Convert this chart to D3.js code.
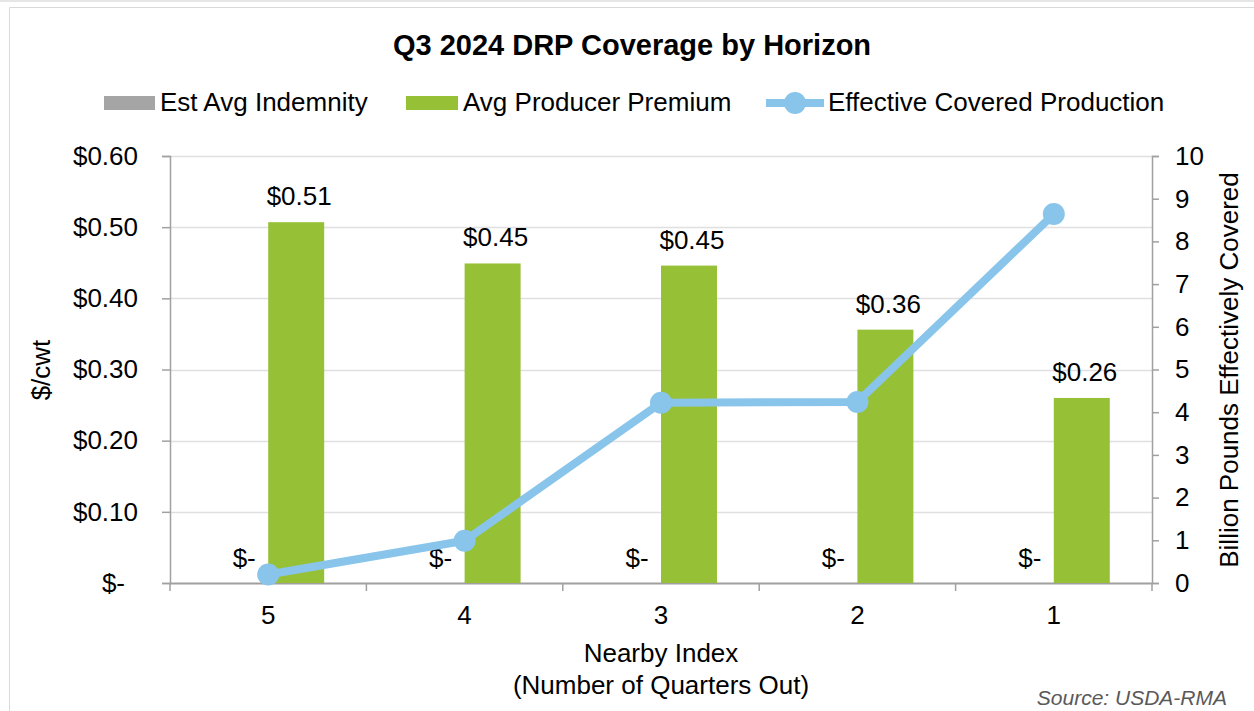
<!DOCTYPE html>
<html>
<head>
<meta charset="utf-8">
<script src="https://cdn.jsdelivr.net/npm/d3@7"></script>
<style>
  html, body { margin: 0; padding: 0; background: #fff; }
  svg text { font-family: "Liberation Sans", Arial, sans-serif; fill: #000; }
</style>
</head>
<body>
<svg id="chart" width="1254" height="711"></svg>
<script>
// ---- data ----
const categories = ["5", "4", "3", "2", "1"];
const seriesNames = ["Est Avg Indemnity", "Avg Producer Premium", "Effective Covered Production"];
const indemnity = [0, 0, 0, 0, 0];
const premium = [0.507, 0.449, 0.446, 0.356, 0.260];
const production = [0.20, 0.99, 4.22, 4.24, 8.64];
const leftTicks = [0, 0.1, 0.2, 0.3, 0.4, 0.5, 0.6];
const rightTicks = [0, 1, 2, 3, 4, 5, 6, 7, 8, 9, 10];
const titleText = "Q3 2024 DRP Coverage by Horizon";
const leftAxisTitle = "$/cwt";
const rightAxisTitle = "Billion Pounds Effectively Covered";
const xAxisTitle = ["Nearby Index", "(Number of Quarters Out)"];
const sourceText = "Source: USDA-RMA";

// ---- styles ----
const FS = 26;
const colGrey = "#a5a5a5";
const colGreen = "#96c137";
const colBlue = "#89c5eb";
const colGrid = "#e0e0e0";
const colAxis = "#a0a0a0";

const svg = d3.select("#chart");

// frame
svg.append("rect").attr("x", 0).attr("y", 0).attr("width", 1254).attr("height", 2).attr("fill", "#e6e6e6");
svg.append("path").attr("d", "M9.5,711 V7.5 H1254").attr("fill", "none").attr("stroke", "#d9d9d9").attr("stroke-width", 1);

const plot = { left: 170, right: 1152, top: 156, bottom: 583 };

const x = d3.scaleBand().domain(categories).range([plot.left, plot.right]).paddingInner(0).paddingOuter(0);
const xSub = d3.scaleBand().domain(["ind", "prem"]).range([0, x.bandwidth()]).paddingInner(0).paddingOuter(0.754);
const yL = d3.scaleLinear().domain([0, 0.6]).range([plot.bottom, plot.top]);
const yR = d3.scaleLinear().domain([0, 10]).range([plot.bottom, plot.top]);

const fmtMoney = v => v === 0 ? "$-" : d3.format("$.2f")(v);

// gridlines
svg.append("g").selectAll("line").data(leftTicks.filter(d => d > 0)).join("line")
  .attr("x1", plot.left).attr("x2", plot.right)
  .attr("y1", d => Math.round(yL(d)) + 0.5).attr("y2", d => Math.round(yL(d)) + 0.5)
  .attr("stroke", colGrid).attr("stroke-width", 1.5);

// left axis
const gL = svg.append("g").attr("transform", `translate(${plot.left},0)`)
  .call(d3.axisLeft(yL).tickValues(leftTicks).tickFormat(fmtMoney).tickSize(8).tickPadding(24));
gL.select(".domain").attr("stroke", colAxis).attr("stroke-width", 1.5);
gL.selectAll(".tick line").attr("stroke", colAxis).attr("stroke-width", 1.5);
gL.selectAll(".tick text").attr("font-size", FS).attr("font-family", "Liberation Sans, Arial, sans-serif")
  .attr("dx", d => d === 0 ? -13 : 0).attr("fill", "#000");

// right axis
const gR = svg.append("g").attr("transform", `translate(${plot.right},0)`)
  .call(d3.axisRight(yR).tickValues(rightTicks).tickFormat(d3.format("d")).tickSize(7).tickPadding(16));
gR.select(".domain").attr("stroke", colAxis).attr("stroke-width", 1.5);
gR.selectAll(".tick line").attr("stroke", colAxis).attr("stroke-width", 1.5);
gR.selectAll(".tick text").attr("font-size", FS).attr("font-family", "Liberation Sans, Arial, sans-serif").attr("fill", "#000");

// bottom axis (category separators)
const sepPositions = categories.map(c => x(c)).concat([x(categories[categories.length - 1]) + x.bandwidth()]);
svg.append("line").attr("x1", plot.left).attr("x2", plot.right)
  .attr("y1", plot.bottom + 0.5).attr("y2", plot.bottom + 0.5)
  .attr("stroke", colAxis).attr("stroke-width", 2);
svg.append("g").selectAll("line").data(sepPositions).join("line")
  .attr("x1", d => d).attr("x2", d => d)
  .attr("y1", plot.bottom).attr("y2", plot.bottom + 8)
  .attr("stroke", colAxis).attr("stroke-width", 1.5);
svg.append("g").selectAll("text").data(categories).join("text")
  .attr("x", d => x(d) + x.bandwidth() / 2).attr("y", 615)
  .attr("text-anchor", "middle").attr("dominant-baseline", "central")
  .attr("font-size", FS).text(d => d);

// bars
const barData = categories.map((c, i) => ({ c, ind: indemnity[i], prem: premium[i] }));
const gBars = svg.append("g");
gBars.selectAll("rect.ind").data(barData).join("rect").attr("class", "ind")
  .attr("x", d => x(d.c) + xSub("ind")).attr("width", xSub.bandwidth())
  .attr("y", d => yL(d.ind)).attr("height", d => yL(0) - yL(d.ind)).attr("fill", colGrey);
gBars.selectAll("rect.prem").data(barData).join("rect").attr("class", "prem")
  .attr("x", d => x(d.c) + xSub("prem")).attr("width", xSub.bandwidth())
  .attr("y", d => yL(d.prem)).attr("height", d => yL(0) - yL(d.prem)).attr("fill", colGreen);

// bar labels
gBars.selectAll("text.ind").data(barData).join("text").attr("class", "ind")
  .attr("x", d => x(d.c) + xSub("ind") + xSub.bandwidth() / 2 + 4)
  .attr("y", d => yL(d.ind) - 16)
  .attr("text-anchor", "middle").attr("font-size", FS).text(d => fmtMoney(d.ind));
gBars.selectAll("text.prem").data(barData).join("text").attr("class", "prem")
  .attr("x", d => x(d.c) + xSub("prem") + xSub.bandwidth() / 2 + 3)
  .attr("y", d => yL(d.prem) - 17)
  .attr("text-anchor", "middle").attr("font-size", FS).text(d => fmtMoney(d.prem));

// line series
const lineData = categories.map((c, i) => ({ c, v: production[i] }));
const line = d3.line().x(d => x(d.c) + x.bandwidth() / 2).y(d => yR(d.v));
svg.append("path").datum(lineData).attr("d", line)
  .attr("fill", "none").attr("stroke", colBlue).attr("stroke-width", 8).attr("stroke-linejoin", "round");
svg.append("g").selectAll("circle").data(lineData).join("circle")
  .attr("cx", d => x(d.c) + x.bandwidth() / 2).attr("cy", d => yR(d.v))
  .attr("r", 11).attr("fill", colBlue);

// title
svg.append("text").attr("x", 632).attr("y", 55).attr("text-anchor", "middle")
  .attr("font-size", 29).attr("font-weight", "bold").text(titleText);

// legend
const legend = svg.append("g");
legend.append("rect").attr("x", 104).attr("y", 96).attr("width", 51).attr("height", 14).attr("fill", colGrey);
legend.append("text").attr("x", 160).attr("y", 111).attr("font-size", FS).text(seriesNames[0]);
legend.append("rect").attr("x", 406).attr("y", 96).attr("width", 52).attr("height", 14).attr("fill", colGreen);
legend.append("text").attr("x", 463).attr("y", 111).attr("font-size", FS).text(seriesNames[1]);
legend.append("line").attr("x1", 766).attr("x2", 824).attr("y1", 103).attr("y2", 103)
  .attr("stroke", colBlue).attr("stroke-width", 8);
legend.append("circle").attr("cx", 795).attr("cy", 103).attr("r", 11).attr("fill", colBlue);
legend.append("text").attr("x", 828).attr("y", 111).attr("font-size", FS).text(seriesNames[2]);

// axis titles
svg.append("text").attr("transform", "translate(41,370) rotate(-90)")
  .attr("text-anchor", "middle").attr("dominant-baseline", "central")
  .attr("font-size", FS).text(leftAxisTitle);
svg.append("text").attr("transform", "translate(1229,370) rotate(-90)")
  .attr("text-anchor", "middle").attr("dominant-baseline", "central")
  .attr("font-size", FS).text(rightAxisTitle);
svg.append("g").selectAll("text").data(xAxisTitle).join("text")
  .attr("x", (plot.left + plot.right) / 2).attr("y", (d, i) => 653 + i * 32)
  .attr("text-anchor", "middle").attr("dominant-baseline", "central")
  .attr("font-size", FS).text(d => d);

// source
svg.append("text").attr("x", 1227).attr("y", 705).attr("text-anchor", "end")
  .attr("font-size", 21).attr("font-style", "italic").style("fill", "#595959")
  .text(sourceText);
</script>
</body>
</html>
